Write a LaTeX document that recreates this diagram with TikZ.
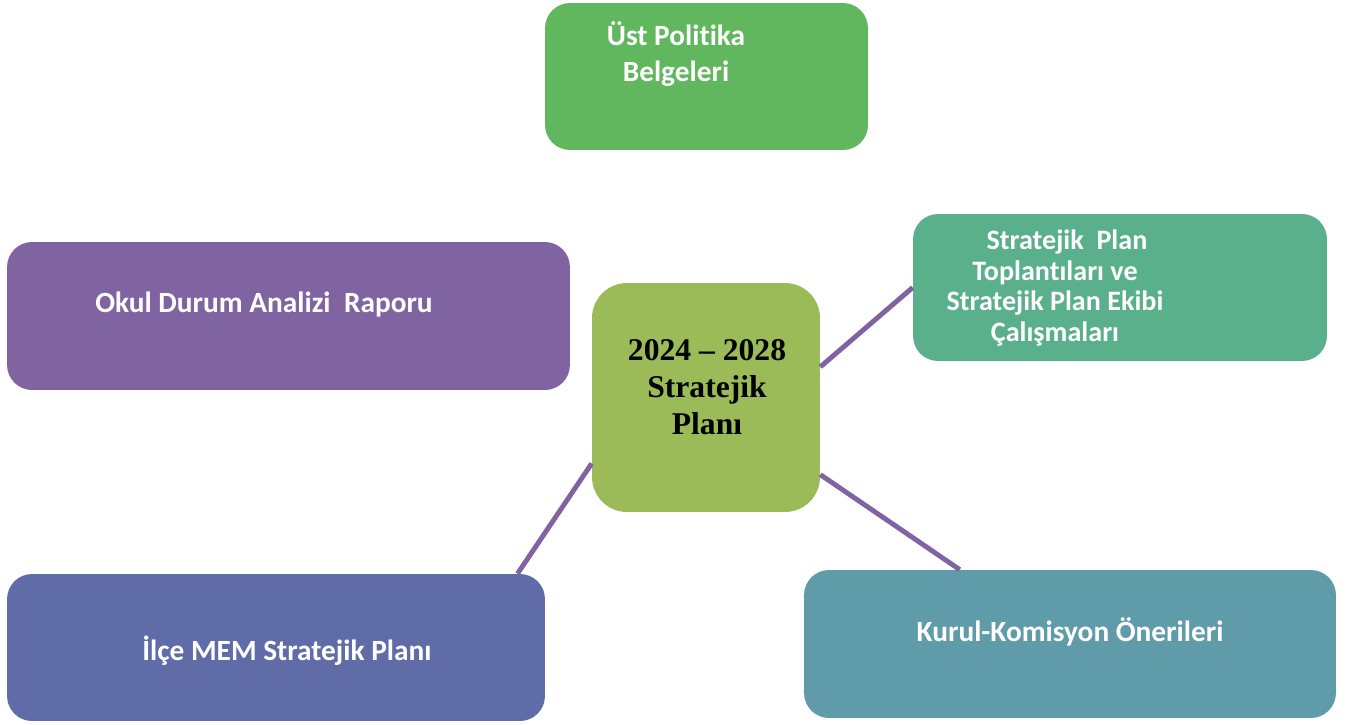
\documentclass[tikz,border=0pt]{standalone}
\usepackage{fontspec}
\setmainfont[Ligatures=NoCommon]{Carlito}
\newfontfamily\timesbf{Liberation Serif}
\usepackage{xcolor}
\usetikzlibrary{positioning}
\definecolor{ustgreen}{RGB}{97,183,93}
\definecolor{okulpurple}{RGB}{128,100,162}
\definecolor{planolive}{RGB}{155,187,89}
\definecolor{topteal}{RGB}{91,176,140}
\definecolor{ilceblue}{RGB}{95,108,167}
\definecolor{kurulteal}{RGB}{96,155,170}

\begin{document}
\begin{tikzpicture}[
   x=0.02cm, y=-0.02cm,
   box/.style={rounded corners=0.5cm, inner sep=0pt, minimum height=2.94cm},
   boxtext/.style={align=center, text=white, inner sep=0pt, font=\fontsize{16.7}{19}\selectfont\bfseries},
   plantext/.style={align=center, inner sep=0pt, font=\fontsize{18}{21}\selectfont\timesbf\bfseries},
   link/.style={draw=okulpurple, line width=2.8pt}
]
\useasboundingbox (0,0) rectangle (1353,724);

\node[box, fill=ustgreen, minimum width=6.46cm] (ust) at (706.5,76.5) {};
\node[box, fill=okulpurple, minimum width=11.26cm, minimum height=2.96cm] (okul) at (288.5,316) {};
\node[box, fill=planolive, rounded corners=0.7cm, minimum width=4.56cm, minimum height=4.58cm] (plan) at (706,397.5) {};
\node[box, fill=topteal, minimum width=8.28cm] (toplanti) at (1120,287.5) {};
\node[box, fill=ilceblue, minimum width=10.76cm] (ilce) at (276,647.5) {};
\node[box, fill=kurulteal, minimum width=10.64cm, minimum height=2.96cm] (kurul) at (1070,644) {};

\node[boxtext, font=\fontsize{16.7}{20}\selectfont\bfseries] (ustT) at (676,54) {Üst Politika\\Belgeleri};
\node[boxtext] (okulT) at (264,305) {Okul Durum Analizi\ \ Raporu};
\node[plantext] (planT) at (707,387) {2024 – 2028\\Stratejik\\Planı};
\node[boxtext, font=\fontsize{16}{17.6}\selectfont\bfseries] (toplantiT) at (1055,288) {\hspace*{0.48cm}Stratejik\ \ Plan\\Toplantıları ve\\Stratejik Plan Ekibi\\Çalışmaları};
\node[boxtext] (ilceT) at (287,651) {İlçe MEM Stratejik Planı};
\node[boxtext] (kurulT) at (1070,632) {Kurul-Komisyon Önerileri};

\draw[link] (plan.210) -- (ilce.17);
\draw[link] (plan.15) -- (toplanti.west);
\draw[link] (plan.-34.5) -- (kurul.146);
\end{tikzpicture}
\end{document}
